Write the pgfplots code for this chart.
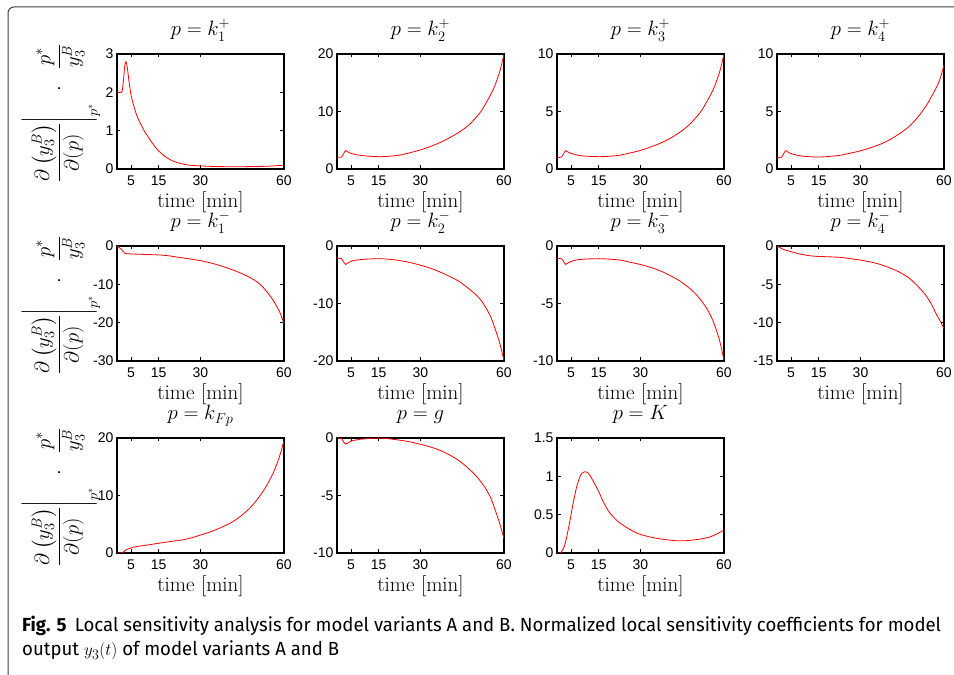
\documentclass[border=0pt]{standalone}
\usepackage{amsmath}
\usepackage{graphicx}
\usepackage{pgfplots}
\pgfplotsset{compat=1.18}
\usepackage{fontspec}
\newfontfamily\tickfont{Liberation Sans}
\newfontfamily\capfont{Fira Sans}
\newlength\capw
\newcommand\capone{\textbf{Fig. 5}\hspace{0.45em}Local sensitivity analysis for model variants A and B. Normalized local sensitivity coefficients for model}
\newcommand\captwo{output $y_3(t)$ of model variants A and B}
\newcommand\ylab{$\left.\dfrac{\partial\left(y_3^B\right)}{\partial(p)}\rule[-1.45em]{0pt}{2.9em}\right|_{p^*}\hspace{7pt}\cdot\hspace{12pt}\dfrac{p^*}{y_3^B}$}
\pgfplotsset{
  sens/.style={
    scale only axis, width=167pt, height=115pt, anchor=south west,
    xmin=0, xmax=60, xtick={5,15,30,60},
    tick align=inside, major tick length=3.5pt,
    axis line style={line width=1.1pt},
    every tick/.style={black, line width=0.7pt},
    ticklabel style={font=\tickfont\fontsize{14}{16}\selectfont},
    /pgf/number format/assume math mode=true,
    scaled y ticks=false,
    x tick label style={anchor=base, yshift=-17pt},
    title style={font=\fontsize{21}{23}\selectfont, at={(0.5,1)}, anchor=base, yshift=12pt, inner sep=0pt},
    xlabel={time [min]},
    xlabel style={font=\fontsize{21}{23}\selectfont, at={(0.5,0)}, anchor=base, yshift=-39pt, inner sep=0pt},
    ylabel style={font=\fontsize{20}{22}\selectfont, at={(axis description cs:-0.08,0.48)}, anchor=south},
  },
  sensline/.style={red, line width=0.8pt, smooth, tension=0.5, mark=none},
}
\begin{document}%
\settowidth{\capw}{\capfont\fontsize{19}{22}\selectfont\capone}%
\pgfmathsetmacro\capsx{919/\capw}%
\begin{tikzpicture}
\path[use as bounding box] (0pt,0pt) rectangle (954pt,675pt);
\draw[line width=1pt, black!75] (8pt,-2pt) -- (8pt,662pt) arc[start angle=180, end angle=90, radius=6pt] -- (956pt,668pt);
% ---------- row 1 ----------
\begin{axis}[sens, at={(117pt,506pt)}, title={$p=k_1^+$},
  ymin=0, ymax=3, ytick={0,1,2,3}, ylabel={\ylab}]
\addplot[sensline] coordinates {(0,2.0) (1,2.0) (1.8,2.02) (2.3,2.3) (2.8,2.7) (3.2,2.8) (3.7,2.65) (4.2,2.35) (5,1.95) (6,1.65) (7,1.42) (8,1.25) (10,0.97) (12,0.75) (14,0.55) (16,0.40) (18,0.29) (20,0.21) (23,0.14) (26,0.10) (30,0.08) (35,0.065) (40,0.06) (45,0.06) (50,0.065) (55,0.075) (60,0.1)};
\end{axis}
\begin{axis}[sens, at={(337pt,506pt)}, title={$p=k_2^+$},
  ymin=0, ymax=20, ytick={0,10,20}]
\addplot[sensline] coordinates {(0,2.03) (1,2.03) (1.7,2.1) (2.3,2.6) (3.1,3.2) (3.8,3.0) (4.8,2.75) (5.9,2.6) (8,2.4) (10.7,2.26) (13,2.18) (15.4,2.14) (19,2.22) (22.6,2.43) (26,2.8) (29.8,3.3) (33.5,3.9) (37,4.6) (40.5,5.45) (44.2,6.5) (47.5,7.7) (50.2,9.1) (52,10.2) (53.8,11.7) (55.5,13.2) (56.8,14.6) (58.5,17) (60,19.9)};
\end{axis}
\begin{axis}[sens, at={(557pt,506pt)}, title={$p=k_3^+$},
  ymin=0, ymax=10, ytick={0,5,10}]
\addplot[sensline] coordinates {(0,1.01) (1,1.01) (1.7,1.05) (2.3,1.3) (3.1,1.6) (3.8,1.5) (4.8,1.38) (5.9,1.3) (8,1.18) (10.7,1.11) (15.4,1.07) (19,1.11) (22.6,1.2) (26,1.38) (29.8,1.6) (33.5,1.9) (37,2.23) (40.5,2.65) (44.2,3.2) (47.5,3.85) (50.2,4.55) (52,5.1) (53.8,5.85) (55.5,6.6) (56.8,7.3) (58.5,8.5) (60,9.97)};
\end{axis}
\begin{axis}[sens, at={(777pt,506pt)}, title={$p=k_4^+$},
  ymin=0, ymax=10, ytick={0,5,10}]
\addplot[sensline] coordinates {(0,1.0) (1,1.0) (1.7,1.05) (2.3,1.3) (3.2,1.6) (3.9,1.48) (4.9,1.35) (5.9,1.28) (8,1.16) (10.7,1.08) (15.4,1.04) (19,1.1) (22.6,1.19) (26,1.36) (29.8,1.57) (33.5,1.84) (37,2.14) (40.5,2.55) (44.2,3.1) (47.5,3.7) (50.2,4.4) (52,4.95) (53.8,5.57) (55.5,6.3) (57.4,7.16) (58.8,8.0) (60,9.04)};
\end{axis}
% ---------- row 2 ----------
\begin{axis}[sens, at={(117pt,314pt)}, title={$p=k_1^-$},
  ymin=-30, ymax=0, ytick={-30,-20,-10,0}, ylabel={\ylab}]
\addplot[sensline] coordinates {(0,0) (0.8,-0.4) (1.6,-0.9) (2.3,-1.5) (2.8,-1.9) (3.5,-2.0) (5.8,-2.1) (10,-2.2) (15.4,-2.35) (19,-2.6) (22.6,-3.0) (26,-3.35) (29.8,-3.8) (33.5,-4.4) (37,-5.1) (40.5,-5.95) (44.2,-7.0) (47.5,-8.1) (50.2,-9.3) (52,-10.4) (53.8,-11.9) (55.5,-13.5) (56.8,-15) (58.5,-17.3) (60,-20.2)};
\end{axis}
\begin{axis}[sens, at={(337pt,314pt)}, title={$p=k_2^-$},
  ymin=-20, ymax=0, ytick={-20,-10,0}]
\addplot[sensline] coordinates {(0,-2.15) (1,-2.15) (1.6,-2.2) (2.3,-2.7) (3.1,-3.2) (3.8,-3.0) (4.7,-2.75) (5.7,-2.56) (7.5,-2.42) (9.3,-2.33) (12,-2.25) (15.3,-2.2) (18,-2.28) (21.3,-2.44) (25.5,-2.8) (29.7,-3.3) (33.5,-3.85) (36.9,-4.5) (40.5,-5.3) (44,-6.2) (47,-7.3) (50,-8.5) (52,-9.6) (53.7,-10.9) (55.3,-12.4) (56.6,-14.1) (58.3,-16.6) (60,-19.9)};
\end{axis}
\begin{axis}[sens, at={(557pt,314pt)}, title={$p=k_3^-$},
  ymin=-10, ymax=0, ytick={-10,-5,0}]
\addplot[sensline] coordinates {(0,-1.08) (1,-1.08) (1.7,-1.12) (2.4,-1.35) (3.1,-1.6) (3.8,-1.5) (4.8,-1.38) (5.9,-1.28) (8,-1.18) (10.7,-1.13) (15.4,-1.1) (19,-1.15) (22.6,-1.22) (26,-1.4) (29.8,-1.6) (33.5,-1.85) (37,-2.15) (40.5,-2.55) (44.2,-3.05) (47.5,-3.65) (50.2,-4.27) (52,-4.8) (53.8,-5.44) (55.5,-6.2) (56.8,-7.0) (58.5,-8.3) (60,-9.94)};
\end{axis}
\begin{axis}[sens, at={(777pt,314pt)}, title={$p=k_4^-$},
  ymin=-15, ymax=0, ytick={-15,-10,-5,0}]
\addplot[sensline] coordinates {(0,0) (1,-0.2) (2.3,-0.44) (4,-0.63) (5.9,-0.83) (8,-1.03) (10.7,-1.22) (12.5,-1.3) (14.3,-1.35) (18,-1.4) (22.6,-1.48) (26,-1.63) (29.8,-1.83) (33.5,-2.08) (37,-2.4) (40.5,-2.85) (44.2,-3.45) (47.5,-4.2) (50.2,-5.1) (52,-5.8) (53.8,-6.6) (55.5,-7.6) (57.4,-9.0) (58.8,-9.9) (60,-10.8)};
\end{axis}
% ---------- row 3 ----------
\begin{axis}[sens, at={(117pt,122pt)}, title={$p=k_{Fp}$},
  ymin=0, ymax=20, ytick={0,10,20}, ylabel={\ylab}]
\addplot[sensline] coordinates {(0,0) (1.6,0) (2.2,0.1) (2.8,0.4) (3.4,0.6) (4,0.7) (5.8,1.0) (8.8,1.25) (11.8,1.45) (14.8,1.68) (17.8,1.9) (20.8,2.1) (23.8,2.3) (26.8,2.65) (29.8,3.1) (32.8,3.55) (35.8,4.1) (38.8,4.75) (41.8,5.5) (44.8,6.55) (47.8,7.85) (50.2,9.2) (52.6,10.8) (54.4,12.3) (56.2,14) (58.2,16.5) (60,19.5)};
\end{axis}
\begin{axis}[sens, at={(337pt,122pt)}, title={$p=g$},
  ymin=-10, ymax=0, ytick={-10,-5,0}]
\addplot[sensline] coordinates {(0,0) (1,0) (1.6,-0.05) (2.3,-0.3) (3.1,-0.53) (3.8,-0.45) (4.7,-0.32) (5.7,-0.23) (8,-0.12) (10.5,-0.06) (13,-0.02) (15.3,0) (18,-0.05) (21.3,-0.15) (25.5,-0.3) (29.7,-0.53) (33.5,-0.78) (36.9,-1.06) (40.5,-1.48) (44,-2.0) (47,-2.6) (50,-3.3) (52,-3.9) (53.7,-4.5) (55.3,-5.25) (56.6,-6.1) (58.3,-7.3) (60,-8.74)};
\end{axis}
\begin{axis}[sens, at={(557pt,122pt)}, title={$p=K$},
  ymin=0, ymax=1.5, ytick={0,0.5,1,1.5}]
\addplot[sensline] coordinates {(0,0) (1.1,0.0) (1.7,0.02) (2.3,0.06) (2.9,0.12) (3.5,0.21) (4.1,0.32) (4.7,0.43) (5.3,0.55) (5.9,0.67) (6.5,0.77) (7.1,0.87) (8,0.97) (8.9,1.04) (10.3,1.06) (11.1,1.045) (11.9,1.01) (13.1,0.93) (14.3,0.85) (15.5,0.76) (16.6,0.67) (17.8,0.59) (19,0.52) (20.8,0.45) (22.6,0.39) (25.6,0.32) (28.6,0.26) (31.6,0.225) (34.6,0.2) (38.8,0.175) (43,0.16) (46,0.16) (49,0.17) (52,0.185) (55,0.21) (57.5,0.25) (60,0.3)};
\end{axis}
% ---------- caption ----------
\node[anchor=base west, inner sep=0pt] at (22pt,43pt) {\capfont\fontsize{19}{22}\selectfont\scalebox{\capsx}[1]{\capone}};
\node[anchor=base west, inner sep=0pt] at (22pt,19pt) {\capfont\fontsize{19}{22}\selectfont\scalebox{\capsx}[1]{\captwo}};
\end{tikzpicture}%
\end{document}
